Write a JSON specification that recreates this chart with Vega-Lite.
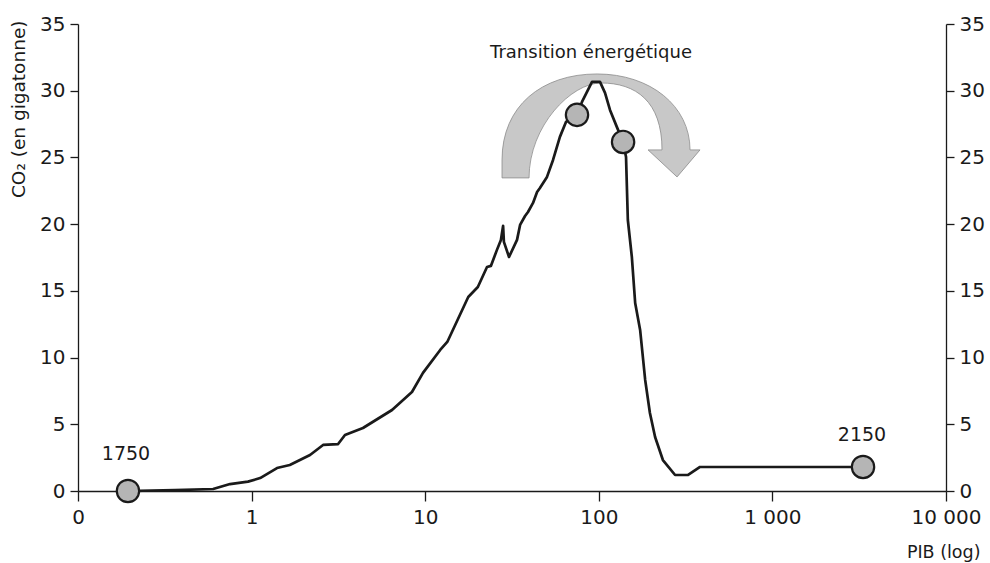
{
  "$schema": "https://vega.github.io/schema/vega-lite/v6.json",
  "width": 868,
  "height": 467,
  "autosize": {"type": "none"},
  "padding": {"left": 78, "top": 24, "right": 44, "bottom": 72},
  "background": "white",
  "config": {
    "view": {"stroke": null},
    "font": "DejaVu Sans",
    "axis": {
      "grid": false,
      "domainColor": "#1a1a1a",
      "tickColor": "#1a1a1a",
      "labelColor": "#1a1a1a",
      "titleColor": "#1a1a1a",
      "labelFont": "DejaVu Sans",
      "titleFont": "DejaVu Sans",
      "titleFontWeight": "normal",
      "domainWidth": 1.3,
      "tickWidth": 1.3
    }
  },
  "datasets": {
    "curve": [
      {"i": 1, "x": 0.194, "y": 0},
      {"i": 2, "x": 0.362, "y": 0.07},
      {"i": 3, "x": 0.6, "y": 0.15},
      {"i": 4, "x": 0.751, "y": 0.52},
      {"i": 5, "x": 0.953, "y": 0.7},
      {"i": 6, "x": 1.12, "y": 0.97},
      {"i": 7, "x": 1.4, "y": 1.72},
      {"i": 8, "x": 1.66, "y": 1.95},
      {"i": 9, "x": 2.17, "y": 2.7},
      {"i": 10, "x": 2.58, "y": 3.45},
      {"i": 11, "x": 3.15, "y": 3.52},
      {"i": 12, "x": 3.45, "y": 4.2},
      {"i": 13, "x": 4.38, "y": 4.72},
      {"i": 14, "x": 6.44, "y": 6.07},
      {"i": 15, "x": 8.39, "y": 7.42},
      {"i": 16, "x": 9.71, "y": 8.85},
      {"i": 17, "x": 12.2, "y": 10.57},
      {"i": 18, "x": 13.4, "y": 11.17},
      {"i": 19, "x": 17.7, "y": 14.54},
      {"i": 20, "x": 20.1, "y": 15.29},
      {"i": 21, "x": 22.7, "y": 16.79},
      {"i": 22, "x": 23.9, "y": 16.87},
      {"i": 23, "x": 25.9, "y": 18.07},
      {"i": 24, "x": 27.3, "y": 18.82},
      {"i": 25, "x": 28.1, "y": 19.87},
      {"i": 26, "x": 28.4, "y": 18.67},
      {"i": 27, "x": 30.4, "y": 17.54},
      {"i": 28, "x": 33.8, "y": 18.82},
      {"i": 29, "x": 35.2, "y": 19.94},
      {"i": 30, "x": 37.6, "y": 20.61},
      {"i": 31, "x": 39.1, "y": 20.91},
      {"i": 32, "x": 41.8, "y": 21.59},
      {"i": 33, "x": 44.1, "y": 22.41},
      {"i": 34, "x": 45.8, "y": 22.71},
      {"i": 35, "x": 50.3, "y": 23.54},
      {"i": 36, "x": 54.5, "y": 24.81},
      {"i": 37, "x": 59.7, "y": 26.54},
      {"i": 38, "x": 64.7, "y": 27.66},
      {"i": 39, "x": 74.9, "y": 28.19},
      {"i": 40, "x": 80.0, "y": 29.16},
      {"i": 41, "x": 91.4, "y": 30.66},
      {"i": 42, "x": 101.6, "y": 30.66},
      {"i": 43, "x": 108.6, "y": 29.84},
      {"i": 44, "x": 116, "y": 28.56},
      {"i": 45, "x": 127, "y": 27.29},
      {"i": 46, "x": 138, "y": 26.16},
      {"i": 47, "x": 143.5, "y": 25.04},
      {"i": 48, "x": 147, "y": 20.31},
      {"i": 49, "x": 155, "y": 17.54},
      {"i": 50, "x": 162, "y": 14.09},
      {"i": 51, "x": 173, "y": 12.07},
      {"i": 52, "x": 185, "y": 8.32},
      {"i": 53, "x": 197, "y": 5.85},
      {"i": 54, "x": 211, "y": 4.05},
      {"i": 55, "x": 234, "y": 2.32},
      {"i": 56, "x": 275, "y": 1.2},
      {"i": 57, "x": 327, "y": 1.2},
      {"i": 58, "x": 383, "y": 1.8},
      {"i": 59, "x": 3327, "y": 1.8}
    ],
    "dots": [
      {"x": 0.194, "y": 0},
      {"x": 74.9, "y": 28.19},
      {"x": 138, "y": 26.16},
      {"x": 3327, "y": 1.8}
    ],
    "years": [
      {"x": 0.189, "y": 2.77, "text": "1750"},
      {"x": 3283, "y": 4.2, "text": "2150"}
    ],
    "arrow": [
      {"x": 103, "y": 27.36}
    ],
    "caption": [
      {"x": 90.2, "y": 32.8, "text": "Transition énergétique"}
    ]
  },
  "encoding": {
    "x": {
      "field": "x",
      "type": "quantitative",
      "scale": {"type": "log", "domain": [0.1, 10000], "nice": false},
      "axis": {
        "values": [0.1, 1, 10, 100, 1000, 10000],
        "labelExpr": "datum.value < 0.5 ? '0' : datum.value == 1000 ? '1 000' : datum.value == 10000 ? '10 000' : datum.label",
        "tickSize": 10,
        "labelFontSize": 20,
        "labelPadding": 6,
        "labelFlush": false,
        "labelOverlap": false,
        "title": "PIB (log)",
        "titleFontSize": 17.5,
        "titleX": 902,
        "titleY": 66,
        "titleAlign": "right",
        "titleBaseline": "alphabetic"
      }
    }
  },
  "layer": [
    {
      "data": {"name": "arrow"},
      "mark": {
        "type": "point",
        "shape": "M-1,0.525 L-1,0.343 C-1,-0.2 -0.6,-0.525 -0.04,-0.525 C0.5,-0.525 0.899,-0.2 0.899,0.242 L1,0.242 L0.768,0.515 L0.475,0.242 L0.616,0.242 C0.616,-0.25 0.35,-0.434 0,-0.434 C-0.3,-0.434 -0.727,0 -0.727,0.525 Z",
        "size": 39204,
        "filled": true,
        "fill": "#c8c8c8",
        "stroke": "#8c8c8c",
        "strokeWidth": 0.8,
        "opacity": 1
      },
      "encoding": {
        "y": {"field": "y", "type": "quantitative", "scale": {"domain": [0, 35], "nice": false}, "axis": null}
      }
    },
    {
      "data": {"name": "curve"},
      "mark": {"type": "line", "color": "#1a1a1a", "strokeWidth": 2.7, "strokeJoin": "round"},
      "encoding": {
        "order": {"field": "i", "type": "quantitative"},
        "y": {
          "field": "y",
          "type": "quantitative",
          "scale": {"domain": [0, 35], "nice": false},
          "axis": {
            "orient": "left",
            "values": [0, 5, 10, 15, 20, 25, 30, 35],
            "tickSize": 8,
            "labelFontSize": 20,
            "labelPadding": 5,
            "title": "CO₂ (en gigatonne)",
            "titleFontSize": 18.5,
            "titleAngle": 270,
            "titleAlign": "right",
            "titleBaseline": "middle",
            "titleX": -60,
            "titleY": -4
          }
        }
      }
    },
    {
      "data": {"name": "dots"},
      "mark": {"type": "point", "shape": "circle", "filled": true, "fill": "#b5b5b5", "stroke": "#1a1a1a", "strokeWidth": 2.2, "size": 500, "opacity": 1},
      "encoding": {
        "y": {
          "field": "y",
          "type": "quantitative",
          "scale": {"domain": [0, 35], "nice": false},
          "axis": {
            "orient": "right",
            "values": [0, 5, 10, 15, 20, 25, 30, 35],
            "tickSize": 8,
            "labelFontSize": 20,
            "labelPadding": 5,
            "title": null
          }
        }
      }
    },
    {
      "data": {"name": "years"},
      "mark": {"type": "text", "fontSize": 19, "color": "#1a1a1a", "baseline": "middle", "align": "center"},
      "encoding": {
        "y": {"field": "y", "type": "quantitative", "scale": {"domain": [0, 35], "nice": false}, "axis": null},
        "text": {"field": "text"}
      }
    },
    {
      "data": {"name": "caption"},
      "mark": {"type": "text", "fontSize": 18, "color": "#1a1a1a", "baseline": "middle", "align": "center"},
      "encoding": {
        "y": {"field": "y", "type": "quantitative", "scale": {"domain": [0, 35], "nice": false}, "axis": null},
        "text": {"field": "text"}
      }
    }
  ],
  "resolve": {"axis": {"y": "independent"}}
}
